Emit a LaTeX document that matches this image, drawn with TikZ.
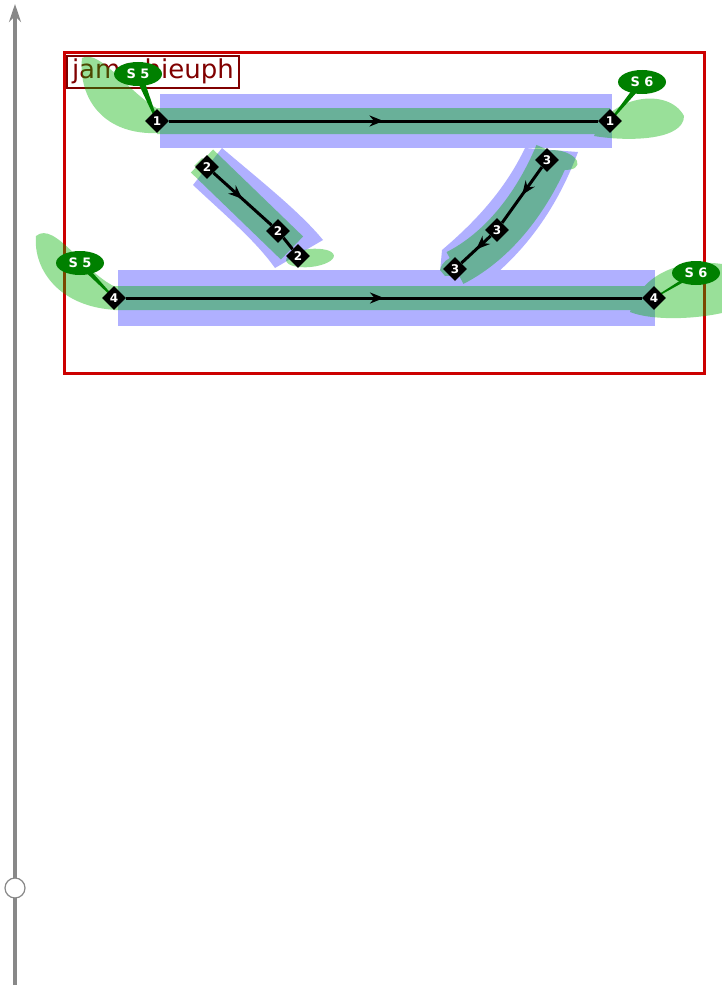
\documentclass[tikz,border=0pt]{standalone}
\usepackage{fontspec}
\setmainfont{DejaVu Sans}
\usetikzlibrary{shapes.geometric,arrows.meta,decorations.markings,calc}
\definecolor{bandblue}{RGB}{176,176,255}
\definecolor{grn}{RGB}{0,178,0}
\definecolor{lblgreen}{RGB}{0,128,0}
\definecolor{boxred}{RGB}{204,0,0}
\definecolor{darkred}{RGB}{128,0,0}
\definecolor{axisgray}{RGB}{136,136,136}
\begin{document}
\begin{tikzpicture}[x=1pt,y=-1pt,
  stopbox/.style={diamond, fill=black, text=white, minimum size=24pt, inner sep=0pt, font=\fontsize{12}{12}\selectfont\bfseries},
  tagbox/.style={ellipse, fill=lblgreen, text=white, minimum width=48pt, minimum height=24pt, inner sep=0pt, font=\fontsize{13}{13}\selectfont\bfseries},
  route/.style={line width=3pt, black},
  midarrow/.style={postaction={decorate}, decoration={markings, mark=at position 0.5 with {\arrow{Stealth[length=14pt,width=11pt]}}}},
]
\useasboundingbox (0,0) rectangle (722,990);
\fill[white] (0,0) rectangle (722,990);

% coordinates
\coordinate (pt1) at (157,121);
\coordinate (pt2) at (610,121);
\coordinate (pm2a) at (207,167);
\coordinate (pm2b) at (278,231);
\coordinate (pm2c) at (298,256);
\coordinate (pm3a) at (547,160);
\coordinate (pm3b) at (497,230);
\coordinate (pm3c) at (455,269);
\coordinate (pb1) at (114,298);
\coordinate (pb2) at (654,298);
\coordinate (ts5a) at (138,74);
\coordinate (ts6a) at (642,82);
\coordinate (ts5b) at (80,263);
\coordinate (ts6b) at (696,273);

% axis
\coordinate (axb) at (15,985);
\coordinate (axt) at (15,4);
\draw[axisgray, line width=4pt, -{Stealth[length=18pt,width=12pt]}] (axb) -- (axt);
\node[circle, draw=axisgray, fill=white, minimum size=20pt, inner sep=0pt, line width=1.2pt] (knob) at (15,888) {};

% frame
\draw[boxred, line width=3pt] (64,53) rectangle (704,373);
\node[draw=darkred, line width=2pt, text=darkred, anchor=north west, inner xsep=5pt, inner ysep=3.5pt, text height=19pt, text depth=6pt, font=\fontsize{26}{26}\selectfont] (title) at (66,55) {jamo hieuph};

% blue bands
\fill[bandblue] (160,94) rectangle (612,148);
\fill[bandblue] (118,270) rectangle (655,326);
\fill[bandblue] (193,185) -- (222,148) .. controls (262,182) and (300,212) .. (323,240) -- (275,268) .. controls (255,240) and (225,215) .. (193,185) -- cycle;
\fill[bandblue] (525,148) -- (578,152) .. controls (560,200) and (534,240) .. (498,272) -- (440,272) -- (442,250) .. controls (475,222) and (505,190) .. (525,148) -- cycle;

% green overlays
\begin{scope}[transparency group, opacity=0.4]
\fill[grn] (157,108) rectangle (610,134);
\fill[grn] (160,133) .. controls (105,136) and (78,100) .. (82,58) .. controls (100,48) and (130,95) .. (160,110) -- cycle;
\fill[grn] (594,136) .. controls (608,96) and (668,86) .. (684,116) .. controls (684,140) and (630,142) .. (594,136) -- cycle;
\fill[grn] (114,286) rectangle (654,310);
\fill[grn] (118,310) .. controls (60,308) and (33,270) .. (36,236) .. controls (55,220) and (85,275) .. (118,288) -- cycle;
\fill[grn] (630,312) .. controls (640,275) and (680,258) .. (722,264) -- (722,313) .. controls (690,320) and (650,320) .. (630,312) -- cycle;
\draw[grn, line width=32pt] (202,161) -- (292,248);
\fill[grn] (194,166) -- (202,158) -- (212,168) -- cycle;
\fill[grn, rotate around={6:(310,258)}] (310,258) ellipse [x radius=24, y radius=9];
\draw[grn, line width=36pt] (553,152) .. controls (533,200) and (500,245) .. (455,268);
\fill[grn, rotate around={-15:(560,160)}] (560,160) ellipse [x radius=18, y radius=9];
\fill[grn] (440,270) .. controls (442,262) and (448,258) .. (455,256) -- (465,275) -- (445,276) -- cycle;
\end{scope}

% tails
\fill[lblgreen] ($(ts5a)+(-4,0)$) -- ($(pt1)+(-1,0)$) -- ($(pt1)+(1,0)$) -- ($(ts5a)+(4,0)$) -- cycle;
\fill[lblgreen] ($(ts6a)+(-4,0)$) -- ($(pt2)+(-1,0)$) -- ($(pt2)+(1,0)$) -- ($(ts6a)+(4,0)$) -- cycle;
\fill[lblgreen] ($(ts5b)+(-4,0)$) -- ($(pb1)+(-1,0)$) -- ($(pb1)+(1,0)$) -- ($(ts5b)+(4,0)$) -- cycle;
\fill[lblgreen] ($(ts6b)+(-4,0)$) -- ($(pb2)+(-1,0)$) -- ($(pb2)+(1,0)$) -- ($(ts6b)+(4,0)$) -- cycle;

% stops
\node[stopbox] (t1) at (pt1) {1};
\node[stopbox] (t2) at (pt2) {1};
\node[stopbox] (m2a) at (pm2a) {2};
\node[stopbox] (m2b) at (pm2b) {2};
\node[stopbox] (m2c) at (pm2c) {2};
\node[stopbox] (m3a) at (pm3a) {3};
\node[stopbox] (m3b) at (pm3b) {3};
\node[stopbox] (m3c) at (pm3c) {3};
\node[stopbox] (b1) at (pb1) {4};
\node[stopbox] (b2) at (pb2) {4};

% routes
\draw[route, midarrow] (t1) -- (t2);
\draw[route, midarrow] (m2a) -- (m2b);
\draw[route] (m2b) -- (m2c);
\draw[route, midarrow] (m3a) -- (m3b);
\draw[route, midarrow] (m3b) -- (m3c);
\draw[route, midarrow] (b1) -- (b2);

% tags
\node[tagbox] (s5a) at (ts5a) {S 5};
\node[tagbox] (s6a) at (ts6a) {S 6};
\node[tagbox] (s5b) at (ts5b) {S 5};
\node[tagbox] (s6b) at (ts6b) {S 6};
\end{tikzpicture}
\end{document}
